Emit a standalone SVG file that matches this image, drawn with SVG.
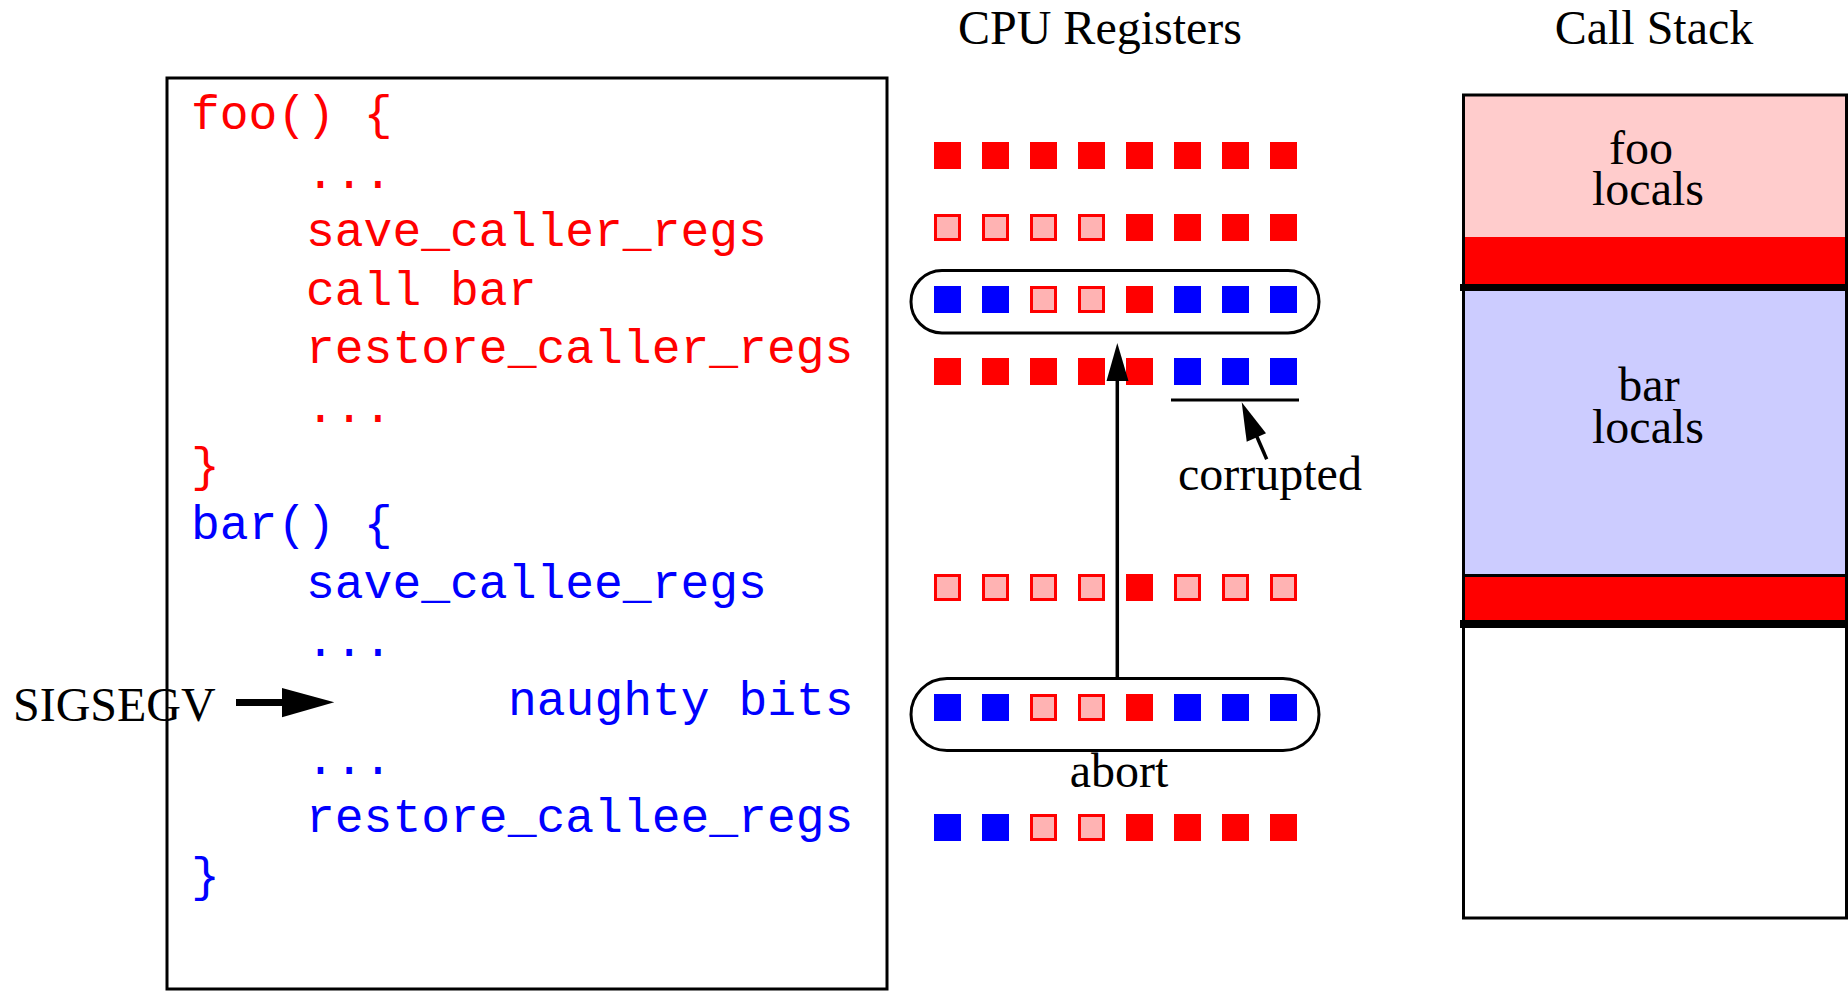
<svg xmlns="http://www.w3.org/2000/svg" width="1848" height="991" viewBox="0 0 1848 991">
<style>
.serif{font-family:"Liberation Serif","Times New Roman",serif;font-size:48px;fill:#000}
.mono{font-family:"Liberation Mono","Courier New",monospace;font-size:48px}
.red{fill:#ff0000}
.blue{fill:#0000ff}
.sr{fill:#ff0000}
.sb{fill:#0000ff}
.sp{fill:#ffb3b3;stroke:#ff0000;stroke-width:3}
.ln{stroke:#000;fill:none}
.ah{fill:#000;stroke:none}
</style>
<defs>
<rect id="R" width="27" height="27" class="sr"/>
<rect id="B" width="27" height="27" class="sb"/>
<rect id="P" x="1.5" y="1.5" width="24" height="24" class="sp"/>
</defs>
<rect width="1848" height="991" fill="#fff"/>

<g id="code">
<rect x="167" y="78" width="720" height="911" fill="none" stroke="#000" stroke-width="3"/>
<g class="mono red">
<text x="191" y="129">foo() {</text>
<text x="306" y="188">...</text>
<text x="306" y="246">save_caller_regs</text>
<text x="306" y="305">call bar</text>
<text x="306" y="363">restore_caller_regs</text>
<text x="306" y="422">...</text>
<text x="191" y="481">}</text>
</g>
<g class="mono blue">
<text x="191" y="539">bar() {</text>
<text x="306" y="598">save_callee_regs</text>
<text x="306" y="656">...</text>
<text x="508" y="715">naughty bits</text>
<text x="306" y="774">...</text>
<text x="306" y="832">restore_callee_regs</text>
<text x="191" y="891">}</text>
</g>
</g>

<g id="sigsegv">
<text class="serif" x="13" y="721">SIGSEGV</text>
</g>

<g id="cpu-title"><text class="serif" x="1100" y="44" text-anchor="middle">CPU Registers</text></g>
<g id="stack-title"><text class="serif" x="1654" y="44" text-anchor="middle">Call Stack</text></g>

<g id="registers">
<g id="row1" transform="translate(934,142)">
<use href="#R" x="0"/><use href="#R" x="48"/><use href="#R" x="96"/><use href="#R" x="144"/><use href="#R" x="192"/><use href="#R" x="240"/><use href="#R" x="288"/><use href="#R" x="336"/>
</g>
<g id="row2" transform="translate(934,214)">
<use href="#P" x="0"/><use href="#P" x="48"/><use href="#P" x="96"/><use href="#P" x="144"/><use href="#R" x="192"/><use href="#R" x="240"/><use href="#R" x="288"/><use href="#R" x="336"/>
</g>
<g id="row3">
<rect x="911" y="270.5" width="408" height="62.5" rx="31" ry="31" fill="none" stroke="#000" stroke-width="3"/>
<g transform="translate(934,286)">
<use href="#B" x="0"/><use href="#B" x="48"/><use href="#P" x="96"/><use href="#P" x="144"/><use href="#R" x="192"/><use href="#B" x="240"/><use href="#B" x="288"/><use href="#B" x="336"/>
</g>
</g>
<g id="row4" transform="translate(934,358)">
<use href="#R" x="0"/><use href="#R" x="48"/><use href="#R" x="96"/><use href="#R" x="144"/><use href="#R" x="192"/><use href="#B" x="240"/><use href="#B" x="288"/><use href="#B" x="336"/>
</g>
<g id="row5" transform="translate(934,574)">
<use href="#P" x="0"/><use href="#P" x="48"/><use href="#P" x="96"/><use href="#P" x="144"/><use href="#R" x="192"/><use href="#P" x="240"/><use href="#P" x="288"/><use href="#P" x="336"/>
</g>
<g id="row6">
<rect x="911" y="678.5" width="408" height="72" rx="36" ry="36" fill="none" stroke="#000" stroke-width="3"/>
<g transform="translate(934,694)">
<use href="#B" x="0"/><use href="#B" x="48"/><use href="#P" x="96"/><use href="#P" x="144"/><use href="#R" x="192"/><use href="#B" x="240"/><use href="#B" x="288"/><use href="#B" x="336"/>
</g>
</g>
<g id="row7" transform="translate(934,814)">
<use href="#B" x="0"/><use href="#B" x="48"/><use href="#P" x="96"/><use href="#P" x="144"/><use href="#R" x="192"/><use href="#R" x="240"/><use href="#R" x="288"/><use href="#R" x="336"/>
</g>
<g id="corrupted-label">
<line x1="1171" y1="400" x2="1299" y2="400" stroke="#000" stroke-width="3"/>
<text class="serif" x="1178" y="490">corrupted</text>
</g>
<g id="abort-label"><text class="serif" x="1119" y="787" text-anchor="middle">abort</text></g>
</g>

<g id="stack">
<rect x="1463.5" y="95" width="383" height="142" fill="#ffcccc"/>
<rect x="1463.5" y="237" width="383" height="48" fill="#ff0000"/>
<rect x="1463.5" y="290" width="383" height="286" fill="#ccccff"/>
<rect x="1463.5" y="576" width="383" height="45" fill="#ff0000"/>
<line x1="1460" y1="287.5" x2="1848" y2="287.5" stroke="#000" stroke-width="7"/>
<line x1="1463" y1="575.5" x2="1847" y2="575.5" stroke="#000" stroke-width="3"/>
<line x1="1460" y1="624" x2="1848" y2="624" stroke="#000" stroke-width="8"/>
<rect x="1463.5" y="95" width="383" height="823" fill="none" stroke="#000" stroke-width="3"/>
<text class="serif" x="1641" y="164" text-anchor="middle">foo</text>
<text class="serif" x="1648" y="205" text-anchor="middle">locals</text>
<text class="serif" x="1649" y="401" text-anchor="middle">bar</text>
<text class="serif" x="1648" y="443" text-anchor="middle">locals</text>
</g>

<g id="connectors">
<line class="ln" x1="1117.3" y1="678" x2="1117.3" y2="375" stroke-width="3.5"/>
<polygon class="ah" points="1117.3,343 1106.5,381 1128.5,381"/>
<line class="ln" x1="1266.7" y1="459.3" x2="1254" y2="430" stroke-width="3.5"/>
<polygon class="ah" points="1241.7,402.3 1246.7,441.7 1266,433.3"/>
<line class="ln" x1="236" y1="702.5" x2="286" y2="702.5" stroke-width="7"/>
<polygon class="ah" points="282,688 334.3,702.3 282,717.3"/>
</g>
</svg>
